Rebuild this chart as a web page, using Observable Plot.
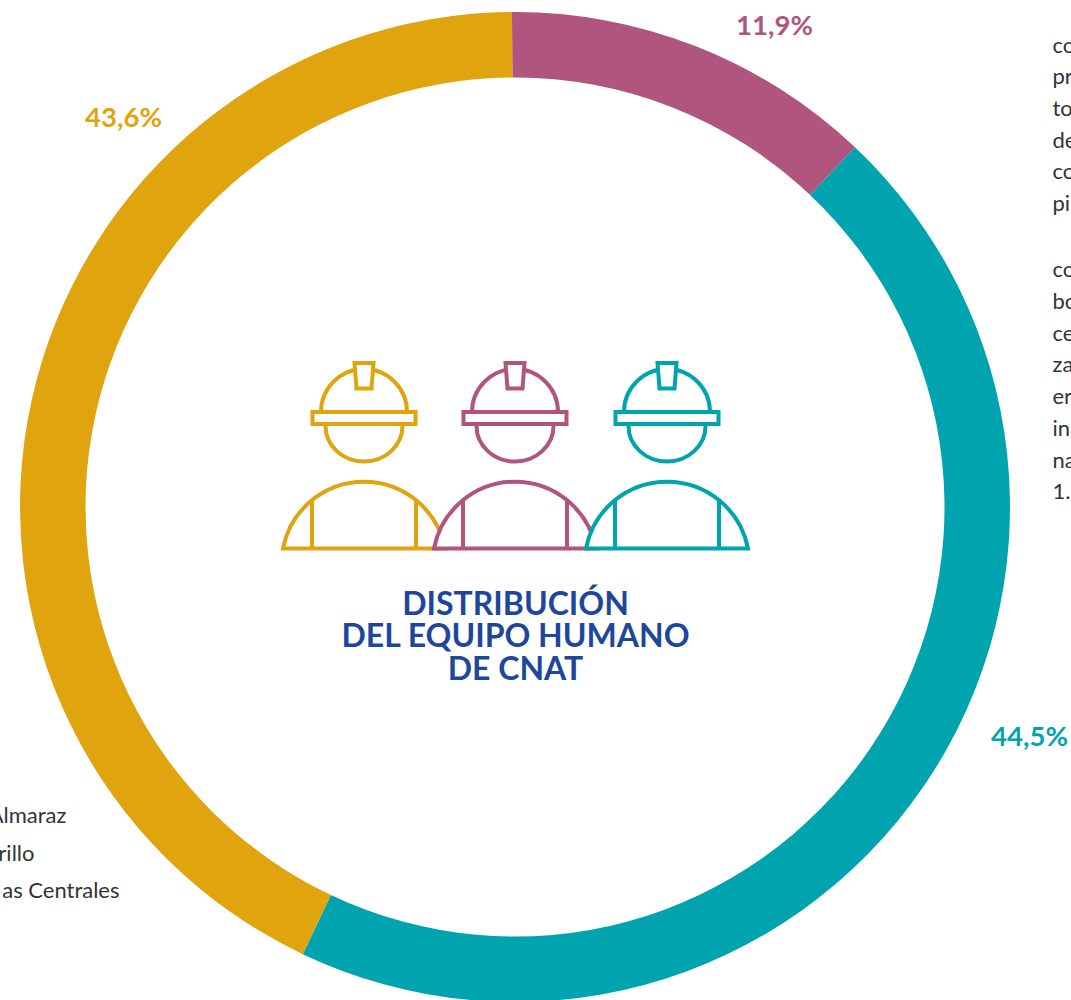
<!DOCTYPE html>
<html>
<head>
<meta charset="utf-8">
<script src="https://cdn.jsdelivr.net/npm/d3@7"></script>
<script src="https://cdn.jsdelivr.net/npm/@observablehq/plot@0.6"></script>
<style>
html,body{margin:0;padding:0;background:#fff;overflow:hidden}
svg{display:block}
</style>
</head>
<body>
<div id="chart"></div>
<script>
const labels = ["11,9%", "44,5%", "43,6%"];
const shares = [12.15, 45.0, 42.85];
const colors = ["#B0567E", "#00A4AE", "#E0A40F"];
const labelX = [774, 1029, 123];
const labelY = [26, 737, 118];

const titleLines = ["DISTRIBUCIÓN", "DEL EQUIPO HUMANO", "DE CNAT"];
const titleY = [604, 636.5, 669];

const sideText = ["co","pr","to","de","co","pi","co","bo","ce","za","er","in","na","1."];
const sideY = [45,76,108,140,171,203,269,301,333,364,396,428,460,491];

const legendText = ["Almaraz", "rillo", "as Centrales"];
const legendEnd = [66, 34, 119];
const legendY = [815, 853, 890];

const crewColors = ["#E0A40F", "#B0567E", "#00A4AE"];
const crewX = [364, 515, 667];

const center = {x: 515, y: 507}, outerR = 495, innerR = 429.5, startDeg = -0.35;

let acc = 0;
const total = d3.sum(shares);
const slices = shares.map((v, i) => {
  const a0 = (startDeg + acc / total * 360) * Math.PI / 180;
  acc += v;
  return {a0, a1: (startDeg + acc / total * 360) * Math.PI / 180, color: colors[i]};
});

function donut(index, {x, y}) {
  const g = d3.create("svg:g").attr("transform", `translate(${x(center.x)},${y(center.y)})`);
  const arc = d3.arc().innerRadius(innerR).outerRadius(outerR);
  g.selectAll("path").data(slices).join("path")
    .attr("d", d => arc({startAngle: d.a0, endAngle: d.a1}))
    .attr("fill", d => d.color);
  return g.node();
}

function crew(index, {x, y}) {
  const root = d3.create("svg:g").attr("stroke-width", 4).attr("stroke-linejoin", "miter");
  crewX.forEach((cx, i) => {
    const g = root.append("g").attr("transform", `translate(${x(cx)},${y(0)})`)
      .attr("stroke", crewColors[i]).attr("fill", "#fff");
    g.append("path").attr("d", "M-81,548.5A82.5,82.5 0 0 1 81,548.5Z");
    g.append("path").attr("fill", "none").attr("d", "M-52,499.5V548M52,499.5V548");
    g.append("path").attr("d", "M-38.5,426A38.5,35.5 0 0 0 38.5,426");
    g.append("path").attr("d", "M-43,412A43,43 0 0 1 43,412");
    g.append("rect").attr("x", -51.5).attr("y", 412).attr("width", 103).attr("height", 12);
    g.append("path").attr("d", "M-9.5,363H9.5L7.5,388.5H-7.5Z");
  });
  return root.node();
}

const rows = (n, f) => d3.range(n).map(f);

const plot = Plot.plot({
  width: 1071,
  height: 1000,
  margin: 0,
  x: {domain: [0, 1071], range: [0, 1071], axis: null},
  y: {domain: [0, 1000], range: [0, 1000], axis: null},
  style: {fontFamily: "Lato, sans-serif", background: "#fff"},
  marks: [
    donut,
    crew,
    Plot.text(rows(3, i => i), {
      x: i => labelX[i], y: i => labelY[i], text: i => labels[i],
      fill: i => colors[i], fontSize: 27.5, fontWeight: 700, textAnchor: "middle", lineAnchor: "middle"
    }),
    Plot.text(rows(3, i => i), {
      x: () => 515, y: i => titleY[i], text: i => titleLines[i],
      fill: "#1E479B", fontSize: 32, fontWeight: 700, textAnchor: "middle", lineAnchor: "middle"
    }),
    Plot.text(rows(sideText.length, i => i), {
      x: () => 1052, y: i => sideY[i], text: i => sideText[i],
      fill: "#333", fontSize: 22, textAnchor: "start", lineAnchor: "middle"
    }),
    Plot.text(rows(3, i => i), {
      x: i => legendEnd[i], y: i => legendY[i], text: i => legendText[i],
      fill: "#333", fontSize: 22, textAnchor: "end", lineAnchor: "middle"
    })
  ]
});
document.getElementById("chart").append(plot);
</script>
</body>
</html>
